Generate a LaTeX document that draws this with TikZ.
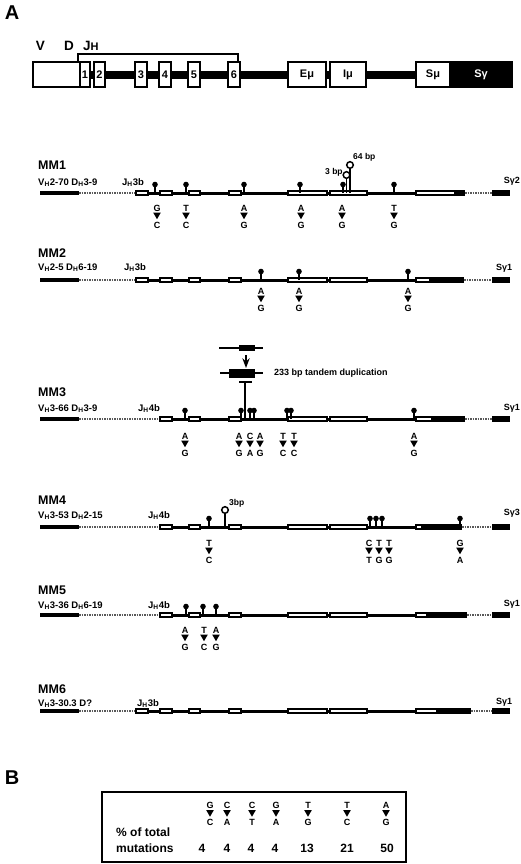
\documentclass[tikz,border=0pt]{standalone}
\usepackage{fontspec}
\setmainfont{Liberation Sans}
\usetikzlibrary{arrows.meta,positioning}

\newcounter{mutno}
\newcommand{\lollipop}[2]{%
  \draw[stemline] (#1,#2) -- (#1,#2-7);
  \fill (#1,#2-8.5) circle (2.8);}
\newcommand{\mutpair}[4]{%
  \stepcounter{mutno}%
  \node[mutlbl] (from\themutno) at (#1,#2) {#3};
  \fill (#1-3.8,#2+4.6) -- (#1+3.8,#2+4.6) -- (#1,#2+11.2) -- cycle;
  \node[mutlbl] (to\themutno) at (#1,#2+17) {#4};}
\newcommand{\genetrack}[5]{%
  \draw[vseg] (40,#1) -- (79,#1);
  \draw[dotseg] (79,#1) -- (#2,#1);
  \draw[mainline] (#2,#1) -- (416,#1);
  \foreach \xa/\xb in {#3,288/327,330/367}
    {\draw[exon] (\xa,#1-2) rectangle (\xb,#1+2);}
  \draw[exon] (416,#1-2) rectangle (#4,#1+2);
  \fill (#4,#1-3) rectangle (#5,#1+3);
  \draw[dotseg] (#5,#1) -- (492,#1);
  \fill (492,#1-3) rectangle (510,#1+3);}

\begin{document}
\begin{tikzpicture}[x=1pt,y=-1pt,>=Stealth,font=\bfseries,
  stemline/.style={line width=1.2pt},
  vseg/.style={line width=3.7pt},
  mainline/.style={line width=3pt},
  dotseg/.style={line width=1.4pt,black!65,dash pattern=on 1.6pt off 0.9pt},
  exon/.style={draw,fill=white,line width=1.7pt},
  mapbox/.style={draw,fill=white,line width=1.6pt,minimum height=25pt,inner sep=0pt,
    font=\fontsize{11}{12}\selectfont\bfseries},
  inscircle/.style={draw,fill=white,line width=1.5pt},
  mutlbl/.style={font=\fontsize{9}{10}\selectfont\bfseries,inner sep=0pt},
  smlbl/.style={font=\fontsize{8.5}{9}\selectfont\bfseries,inner sep=0pt},
  genelbl/.style={font=\fontsize{9.5}{11}\selectfont\bfseries,inner sep=0pt,anchor=base west},
  sglbl/.style={font=\fontsize{9}{10}\selectfont\bfseries,inner sep=0pt},
  rowttl/.style={font=\fontsize{12.5}{14}\selectfont\bfseries,inner sep=0pt,anchor=west},
  maplbl/.style={font=\fontsize{13.5}{15}\selectfont\bfseries,inner sep=0pt},
  panel/.style={font=\fontsize{20}{22}\selectfont\bfseries,inner sep=0pt},
  tbltxt/.style={font=\fontsize{12}{13}\selectfont\bfseries,inner sep=0pt}]
\useasboundingbox (0,0) rectangle (520,864);
\fill[white] (0,0) rectangle (520,864);

\node[panel] (pa) at (12,13) {A};

\node[maplbl] (vlbl) at (40.5,46) {V};
\node[maplbl] (dlbl) at (69,46) {D};
\node[maplbl,anchor=west] (jlbl) at (83,46) {J{\fontsize{11}{12}\selectfont H}};
\draw[line width=1.5pt] (78,61) -- (78,54) -- (238,54) -- (238,61);
\draw[line width=8pt] (90,75) -- (416,75);
\node[mapbox,minimum width=47pt] (vbox) at (56.5,74.5) {};
\node[mapbox,minimum width=10pt] (j1) at (85,74.5) {1};
\node[mapbox,minimum width=11pt] (j2) at (99.5,74.5) {2};
\node[mapbox,minimum width=12pt] (j3) at (141,74.5) {3};
\node[mapbox,minimum width=12pt] (j4) at (165,74.5) {4};
\node[mapbox,minimum width=12pt] (j5) at (194,74.5) {5};
\node[mapbox,minimum width=12pt] (j6) at (234,74.5) {6};
\node[mapbox,minimum width=38pt] (emu) at (307,74.5) {Eμ};
\node[mapbox,minimum width=36pt] (imu) at (348,74.5) {Iμ};
\node[mapbox,minimum width=34pt] (smu) at (433,74.5) {Sμ};
\node[mapbox,minimum width=62pt,fill=black,text=white] (sgam) at (481,74.5) {Sγ};

% MM1
\node[rowttl] (mm1) at (38,165) {MM1};
\node[genelbl] (mm1v) at (38,185.5) {V\textsubscript{H}2-70 D\textsubscript{H}3-9};
\node[genelbl] (mm1j) at (122,185.5) {J\textsubscript{H}3b};
\node[sglbl,anchor=east] (mm1s) at (520,181) {Sγ2};
\genetrack{193}{136}{136/148,160/172,189/200,229/241}{455}{465}
\foreach \x in {155,186,244,300,343,394} {\lollipop{\x}{193}}
\node[smlbl,anchor=west] (ins3) at (325,172) {3 bp};
\node[smlbl,anchor=west] (ins64) at (353,157) {64 bp};
\draw[stemline] (346.5,193) -- (346.5,178.5);
\draw[stemline] (350,193) -- (350,168.5);
\draw[inscircle] (346.5,175) circle (3.3);
\draw[inscircle] (350,165) circle (3.3);
\foreach \x/\f/\t in {157/G/C,186/T/C,244/A/G,301/A/G,342/A/G,394/T/G} {\mutpair{\x}{208}{\f}{\t}}

% MM2
\node[rowttl] (mm2) at (38,253) {MM2};
\node[genelbl] (mm2v) at (38,270.5) {V\textsubscript{H}2-5 D\textsubscript{H}6-19};
\node[genelbl] (mm2j) at (124,270.5) {J\textsubscript{H}3b};
\node[sglbl,anchor=west] (mm2s) at (496,268) {Sγ1};
\genetrack{280}{136}{136/148,160/172,189/200,229/241}{430}{464}
\foreach \x in {261,299,408} {\lollipop{\x}{280}}
\foreach \x/\f/\t in {261/A/G,299/A/G,408/A/G} {\mutpair{\x}{291}{\f}{\t}}

% MM3
\node[rowttl] (mm3) at (38,392) {MM3};
\node[genelbl] (mm3v) at (38,411.5) {V\textsubscript{H}3-66 D\textsubscript{H}3-9};
\node[genelbl] (mm3j) at (138,411.5) {J\textsubscript{H}4b};
\node[sglbl,anchor=east] (mm3s) at (520,408) {Sγ1};
\genetrack{419}{160}{160/172,189/200,229/241}{432}{465}
\draw[line width=1.5pt] (219,348) -- (263,348);
\fill (239,345) rectangle (255,351);
\coordinate (dupa) at (246,355);
\coordinate (dupb) at (246,368);
\draw[->,line width=1.5pt] (dupa) -- (dupb);
\draw[line width=1.5pt] (220,373) -- (263,373);
\fill (229,368.5) rectangle (255,377.5);
\node[smlbl,anchor=west,font=\fontsize{9}{10}\selectfont\bfseries] (dup) at (274,373) {233 bp tandem duplication};
\draw[line width=1.5pt] (245,419) -- (245,382);
\draw[line width=1.8pt] (239,382) -- (252,382);
\foreach \x in {185,241,250,254,287,291,414} {\lollipop{\x}{419}}
\foreach \x/\f/\t in {185/A/G,239/A/G,250/C/A,260/A/G,283/T/C,294/T/C,414/A/G} {\mutpair{\x}{436}{\f}{\t}}

% MM4
\node[rowttl] (mm4) at (38,500) {MM4};
\node[genelbl] (mm4v) at (38,518.5) {V\textsubscript{H}3-53 D\textsubscript{H}2-15};
\node[genelbl] (mm4j) at (148,518.5) {J\textsubscript{H}4b};
\node[sglbl,anchor=east] (mm4s) at (520,513) {Sγ3};
\genetrack{527}{160}{160/172,189/200,229/241}{422}{462}
\foreach \x in {209,370,376,382,460} {\lollipop{\x}{527}}
\node[smlbl,anchor=west] (ins3b) at (229,503) {3bp};
\draw[stemline] (225,527) -- (225,513.5);
\draw[inscircle] (225,510) circle (3.3);
\foreach \x/\f/\t in {209/T/C,369/C/T,379/T/G,389/T/G,460/G/A} {\mutpair{\x}{543}{\f}{\t}}

% MM5
\node[rowttl] (mm5) at (38,590) {MM5};
\node[genelbl] (mm5v) at (38,608.5) {V\textsubscript{H}3-36 D\textsubscript{H}6-19};
\node[genelbl] (mm5j) at (148,608.5) {J\textsubscript{H}4b};
\node[sglbl,anchor=east] (mm5s) at (520,604) {Sγ1};
\genetrack{615}{160}{160/172,189/200,229/241}{427}{467}
\foreach \x in {186,203,216} {\lollipop{\x}{615}}
\foreach \x/\f/\t in {185/A/G,204/T/C,216/A/G} {\mutpair{\x}{630}{\f}{\t}}

% MM6
\node[rowttl] (mm6) at (38,689) {MM6};
\node[genelbl] (mm6v) at (38,706) {V\textsubscript{H}3-30.3 D?};
\node[genelbl] (mm6j) at (137,706) {J\textsubscript{H}3b};
\node[sglbl,anchor=west] (mm6s) at (496,702) {Sγ1};
\genetrack{711}{136}{136/148,160/172,189/200,229/241}{437}{471}

% B
\node[panel] (pb) at (12,778) {B};
\node[draw,line width=1.8pt,minimum width=304pt,minimum height=70pt,inner sep=0pt] (tbl) at (254,827) {};
\node[tbltxt,anchor=west] (pct) at (116,832.5) {\% of total};
\node[tbltxt,anchor=west] (muts) at (116,848) {mutations};
\foreach \x/\f/\t in {210/G/C,227/C/A,252/C/T,276/G/A,308/T/G,347/T/C,386/A/G} {\mutpair{\x}{805.5}{\f}{\t}}
\foreach \x/\p in {202/4,227/4,251/4,275/4,307/13,347/21,387/50}
  {\node[tbltxt] (n\x) at (\x,848) {\p};}
\end{tikzpicture}
\end{document}
